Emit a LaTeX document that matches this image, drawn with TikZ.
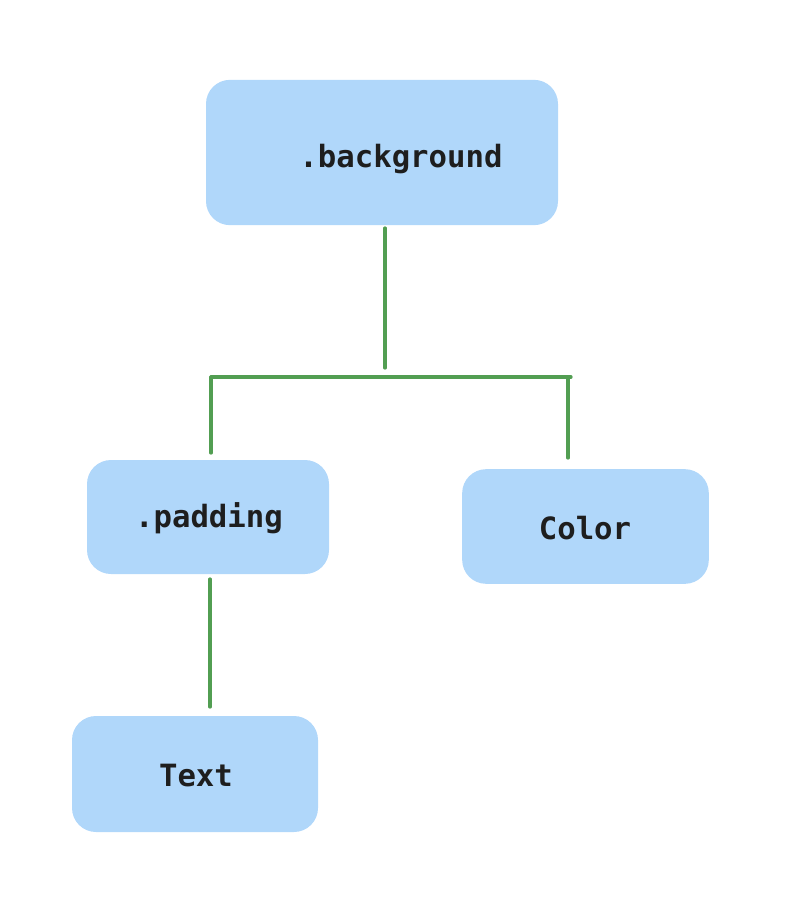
\documentclass[tikz,border=0pt]{standalone}
\usepackage{fontspec}
\setmonofont{DejaVu Sans Mono}
\definecolor{boxfill}{HTML}{B0D7FA}
\definecolor{linegreen}{HTML}{529E52}
\definecolor{txtcol}{HTML}{1E1E1E}
\begin{document}
\begin{tikzpicture}[x=0.75pt,y=-0.75pt,
  box/.style={fill=boxfill,draw=none,rounded corners=18pt,inner sep=0pt},
  lbl/.style={font=\ttfamily\bfseries\fontsize{23}{26}\selectfont,text=txtcol,inner sep=0pt},
  conn/.style={draw=linegreen,line width=2.4pt,line cap=round}]
\useasboundingbox (0,0) rectangle (808,900);
\node[box,minimum width=264pt,minimum height=109pt] (bg) at (382,152.5) {};
\node[box,minimum width=181.5pt,minimum height=85.5pt] (pad) at (208,517) {};
\node[box,minimum width=185pt,minimum height=86pt] (col) at (585.5,526.5) {};
\node[box,minimum width=184.5pt,minimum height=87pt] (txt) at (195,774) {};
\node[lbl] (bgl) at (401,159) {.background};
\node[lbl] (padl) at (209,518) {.padding};
\node[lbl] (coll) at (585,528) {Color};
\node[lbl] (txtl) at (196,776) {Text};
\coordinate (a1) at (385,228);
\coordinate (a2) at (385,368);
\coordinate (hl) at (211,377);
\coordinate (hr) at (571,377);
\coordinate (hm) at (568,377);
\coordinate (l1) at (211,453);
\coordinate (r1) at (568,458);
\coordinate (p1) at (210,579);
\coordinate (p2) at (210,707);
\draw[conn] (a1) -- (a2);
\draw[conn] (hl) -- (hr);
\draw[conn] (hl) -- (l1);
\draw[conn] (hm) -- (r1);
\draw[conn] (p1) -- (p2);
\end{tikzpicture}
\end{document}
